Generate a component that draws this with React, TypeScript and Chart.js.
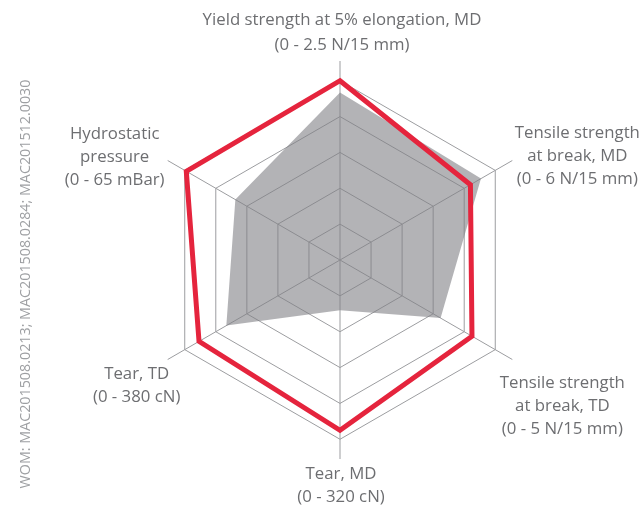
import React, { useEffect, useRef } from "react";
import { Chart, registerables } from "chart.js";

Chart.register(...registerables);

// Axis labels (clockwise from top)
const axisLabels: string[][] = [
  ["Yield strength at 5% elongation, MD", "(0 - 2.5 N/15 mm)"],
  ["Tensile strength", "at break, MD", "(0 - 6 N/15 mm)"],
  ["Tensile strength", "at break, TD", "(0 - 5 N/15 mm)"],
  ["Tear, MD", "(0 - 320 cN)"],
  ["Tear, TD", "(0 - 380 cN)"],
  ["Hydrostatic", "pressure", "(0 - 65 mBar)"],
];

// Scores on a 0-5 scale (outer ring = top of each range)
const redSeries = [5.0, 4.2, 4.25, 4.75, 4.54, 4.95];
const graySeries = [4.67, 4.54, 3.24, 1.4, 3.66, 3.37];

const ringValues = [0, 1, 2, 3, 4, 5];
const scaleMax = 5.55;

const sideNote = "WOM: MAC201508.0213; MAC201508.0284; MAC201512.0030";

// label block offsets from spoke ends (style only)
const labelOffsets: [number, number][] = [
  [2, -28],
  [65, -4],
  [50, 47],
  [1, 27],
  [-31, 26],
  [-53, -3],
];

const labelPlugin = {
  id: "axisLabelText",
  afterDraw(chart: any) {
    const scale = chart.scales.r;
    const ctx = chart.ctx;
    ctx.save();
    ctx.fillStyle = "#6d6e71";
    ctx.font = '16.8px "Open Sans"';
    ctx.textAlign = "center";
    ctx.textBaseline = "middle";
    axisLabels.forEach((lines, i) => {
      const lh = i === 0 ? 25 : 23;
      const p = scale.getPointPositionForValue(i, scale.max);
      const cx = p.x + labelOffsets[i][0];
      const cy = p.y + labelOffsets[i][1];
      const top = cy - ((lines.length - 1) * lh) / 2;
      lines.forEach((t, j) => ctx.fillText(t, cx, top + j * lh));
    });
    // rotated side note
    ctx.fillStyle = "#9d9fa2";
    ctx.font = '14.3px "Open Sans"';
    ctx.translate(26, 284);
    ctx.rotate(-Math.PI / 2);
    ctx.fillText(sideNote, 0, 0);
    ctx.restore();
  },
};

export default function App() {
  const ref = useRef<HTMLCanvasElement | null>(null);
  useEffect(() => {
    if (!ref.current) return;
    const chart = new Chart(ref.current, {
      type: "radar",
      data: {
        labels: axisLabels.map((l) => l.join(" ")),
        datasets: [
          {
            data: redSeries,
            borderColor: "#e5243d",
            borderWidth: 5,
            borderJoinStyle: "miter",
            backgroundColor: "transparent",
            fill: false,
            pointRadius: 0,
            pointHoverRadius: 0,
          },
          {
            data: graySeries,
            borderWidth: 0,
            borderColor: "transparent",
            backgroundColor: "rgba(128,129,134,0.6)",
            fill: "origin",
            pointRadius: 0,
            pointHoverRadius: 0,
          },
        ],
      },
      options: {
        responsive: false,
        animation: false,
        layout: { padding: { left: 141, right: 105, top: 61, bottom: 54 } },
        plugins: {
          legend: { display: false },
          tooltip: { enabled: false },
        },
        elements: { line: { tension: 0 } },
        scales: {
          r: {
            min: 0,
            max: scaleMax,
            afterBuildTicks: (s: any) => {
              s.ticks = ringValues.map((v) => ({ value: v }));
            },
            ticks: { display: false, stepSize: 1 },
            grid: { circular: false, color: "#9c9da0", lineWidth: 1 },
            angleLines: { display: true, color: "#9c9da0", lineWidth: 1 },
            pointLabels: { display: false },
          },
        },
      },
      plugins: [labelPlugin],
    } as any);
    return () => chart.destroy();
  }, []);
  return (
    <div style={{ position: "absolute", left: 0, top: 0, width: 644, height: 513, background: "#fff" }}>
      <canvas ref={ref} width={644} height={513} style={{ display: "block" }} />
    </div>
  );
}
